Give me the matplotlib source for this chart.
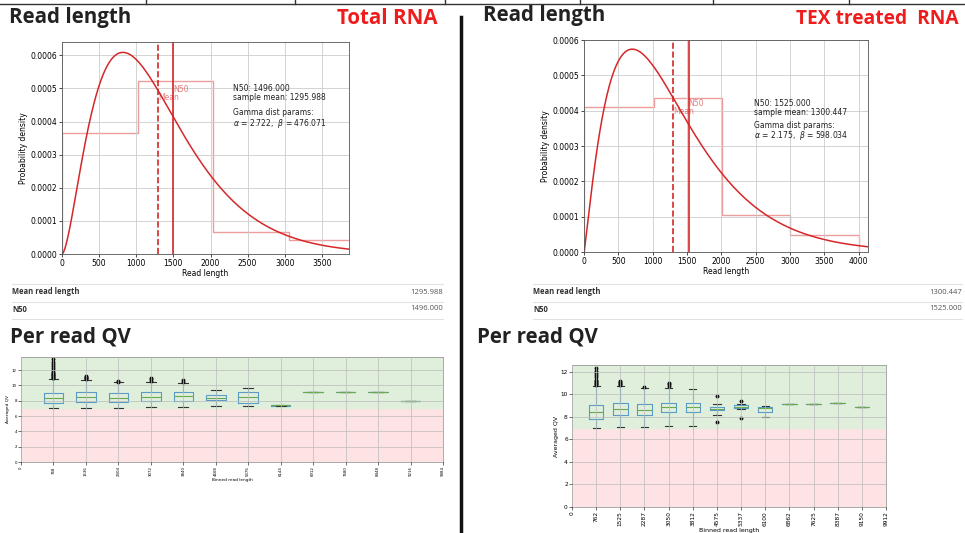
import math
import numpy as np
import matplotlib
matplotlib.use("Agg")
import matplotlib.pyplot as plt
from matplotlib.lines import Line2D

W, H = 965, 533

# ---- read length data (left: Total RNA, right: TEX treated RNA) ----
total_bin_edges = [0, 1020, 2040, 3060, 4080]
total_density = [0.000366, 0.000521, 0.000067, 0.000043]
total_n50 = 1496.000
total_mean = 1295.988
total_alpha, total_beta = 2.722, 476.071

tex_bin_edges = [0, 1015, 2010, 3005, 4000]
tex_density = [0.000409, 0.000435, 0.000105, 0.000048]
tex_n50 = 1525.000
tex_mean = 1300.447
tex_alpha, tex_beta = 2.175, 598.034

# ---- per read QV box stats: whislo, q1, med, q3, whishi ----
total_qv_ticks = ["0", "768", "1536", "2304", "3072", "3840", "4608", "5376",
                  "6144", "6912", "7680", "8448", "9216", "9984"]
total_qv_stats = [
    (7.06, 7.66, 8.40, 9.05, 10.8),
    (7.06, 7.88, 8.50, 9.10, 10.7),
    (7.06, 7.85, 8.40, 8.96, 10.4),
    (7.14, 7.90, 8.45, 9.08, 10.5),
    (7.14, 8.00, 8.55, 9.10, 10.3),
    (7.36, 8.05, 8.35, 8.70, 9.4),
    (7.27, 7.75, 8.45, 9.08, 9.6),
    (7.30, 7.36, 7.40, 7.45, 7.5),
    (9.10, 9.10, 9.10, 9.10, 9.10),
    (9.10, 9.10, 9.10, 9.10, 9.10),
    (9.10, 9.10, 9.10, 9.10, 9.10),
    (8.00, 8.00, 8.00, 8.00, 8.00),
]
total_qv_fliers = [
    [10.9, 11.0, 11.1, 11.2, 11.3, 11.4, 11.5, 11.6, 11.8, 12.0, 12.2, 12.5, 12.8, 13.1, 13.4],
    [10.8, 10.9, 11.0, 11.1, 11.2],
    [10.5, 10.55],
    [10.6, 10.8, 11.0],
    [10.4, 10.7],
    [], [], [], [], [], [], [],
]

tex_qv_ticks = ["0", "762", "1525", "2287", "3050", "3812", "4575", "5337",
                "6100", "6862", "7625", "8387", "9150", "9912"]
tex_qv_stats = [
    (7.05, 7.85, 8.44, 9.04, 10.7),
    (7.10, 8.20, 8.74, 9.19, 10.7),
    (7.10, 8.15, 8.65, 9.10, 10.6),
    (7.17, 8.40, 8.90, 9.27, 10.6),
    (7.17, 8.39, 8.90, 9.19, 10.46),
    (8.20, 8.60, 8.74, 8.90, 9.10),
    (8.70, 8.82, 8.90, 9.02, 9.10),
    (8.00, 8.44, 8.80, 8.90, 8.95),
    (9.12, 9.12, 9.12, 9.12, 9.12),
    (9.18, 9.18, 9.18, 9.18, 9.18),
    (9.25, 9.25, 9.25, 9.25, 9.25),
    (8.88, 8.88, 8.88, 8.88, 8.88),
]
tex_qv_fliers = [
    [10.8, 10.9, 11.0, 11.1, 11.2, 11.3, 11.5, 11.7, 11.9, 12.1, 12.35],
    [10.8, 10.9, 11.0, 11.1, 11.2],
    [10.65],
    [10.7, 10.9, 11.0],
    [],
    [9.85, 7.5],
    [9.4, 7.9],
    [], [], [], [], [],
]

RED = "#d62728"


def px(l, t, r, b):
    return [l / W, 1 - b / H, (r - l) / W, (b - t) / H]


def fig_y(y):
    return 1 - y / H


def gamma_pdf(x, a, scale):
    return np.exp((a - 1) * np.log(np.maximum(x, 1e-9)) - x / scale
                  - math.lgamma(a) - a * math.log(scale))


def read_length_plot(ax, edges, dens, n50, mean, a, b, xmax, ymax, tx, ty, gap):
    ax.stairs(dens, edges, color=RED, alpha=0.45, lw=1.0)
    xs = np.linspace(0, xmax, 500)
    ax.plot(xs, gamma_pdf(xs, a, b), color=RED, lw=1.1)
    ax.axvline(mean, color=RED, ls="--", lw=1.2)
    ax.axvline(n50, color=RED, lw=1.2)
    ax.text(n50, ty * 0.97, "N50", color=RED, alpha=0.6, fontsize=5.5, va="center")
    ax.text(mean, ty * 0.92, "Mean", color=RED, alpha=0.6, fontsize=5.5, va="center")
    ax.annotate("N50: %.3f\nsample mean: %.3f" % (n50, mean), (tx, ty),
                fontsize=5.5, va="top", linespacing=0.95, color="#222222")
    ax.annotate("Gamma dist params:\n$\\alpha$ = %.3f,  $\\beta$ = %.3f" % (a, b), (tx, ty),
                xytext=(0, -gap), textcoords="offset points",
                fontsize=5.5, va="top", linespacing=0.95, color="#222222")
    ax.set_xlim(0, xmax)
    ax.set_ylim(0, ymax)
    ax.set_xticks(np.arange(0, xmax, 500))
    ax.set_yticks(np.arange(0, 0.00061, 0.0001))
    ax.yaxis.set_major_formatter(matplotlib.ticker.FormatStrFormatter("%.4f"))
    ax.grid(True, color="#cccccc", lw=0.6)
    ax.tick_params(labelsize=5.5, length=2, width=0.5, pad=1.5)
    ax.set_xlabel("Read length", fontsize=5.5, labelpad=1)
    ax.set_ylabel("Probability density", fontsize=5.5, labelpad=2)
    for s in ax.spines.values():
        s.set_color("#555555")
        s.set_linewidth(0.6)


def qv_plot(ax, stats, fliers, ticks, ymax, fs):
    ax.axhspan(0, 7, color="#fde3e3", zorder=0)
    ax.axhspan(7, ymax, color="#e0efdc", zorder=0)
    bx = []
    for st, fl in zip(stats, fliers):
        bx.append(dict(whislo=st[0], q1=st[1], med=st[2], q3=st[3], whishi=st[4], fliers=fl))
    ax.bxp(bx, positions=range(1, len(bx) + 1), widths=0.6, manage_ticks=False,
           boxprops=dict(color="#5a9bc8", lw=0.8),
           whiskerprops=dict(color="#5a9bc8", lw=0.8),
           medianprops=dict(color="#6aa84f", lw=0.8),
           capprops=dict(color="#333333", lw=0.8),
           flierprops=dict(marker="o", markersize=1.8, markerfacecolor="#111111",
                           markeredgecolor="#111111"))
    ax.set_xlim(0, len(ticks) - 1)
    ax.set_ylim(0, ymax)
    ax.set_xticks(range(len(ticks)))
    ax.set_xticklabels(ticks, rotation=90)
    ax.set_yticks(range(0, 13, 2))
    ax.grid(True, color="#bbbbbb", lw=0.5)
    ax.set_axisbelow(False)
    ax.tick_params(labelsize=fs, length=2, width=0.4, pad=1)
    ax.set_xlabel("Binned read length", fontsize=fs + 0.3, labelpad=1)
    ax.set_ylabel("Averaged QV", fontsize=fs + 0.3, labelpad=1)
    for s in ax.spines.values():
        s.set_color("#888888")
        s.set_linewidth(0.5)


fig = plt.figure(figsize=(W / 100, H / 100), dpi=100)

# table border from above, cut off
fig.add_artist(Line2D([0, 1], [fig_y(4), fig_y(4)], color="#333333", lw=1.0))
for xv in [146, 295, 445, 580, 713, 849]:
    fig.add_artist(Line2D([xv / W, xv / W], [1, fig_y(4)], color="#333333", lw=1.0))

# divider
fig.add_artist(Line2D([461 / W, 461 / W], [fig_y(17), 0], color="#111111", lw=2.5))

head = dict(fontsize=14.8, fontweight="bold", family="Open Sans", va="center")
fig.text(9 / W, fig_y(17), "Read length", color="#222222", **head)
fig.text(337 / W, fig_y(19), "Total RNA", color="#ee1c1c", **head)
fig.text(483 / W, fig_y(16), "Read length", color="#222222", **head)
fig.text(796 / W, fig_y(19), "TEX treated  RNA", color="#ee1c1c",
         **dict(head, fontsize=13.8))
fig.text(10 / W, fig_y(337), "Per read QV", color="#222222", **head)
fig.text(477 / W, fig_y(337), "Per read QV", color="#222222", **head)

# read length plots
ax1 = fig.add_axes(px(62, 42, 349, 254))
read_length_plot(ax1, total_bin_edges, total_density, total_n50, total_mean,
                 total_alpha, total_beta, 3865, 0.00064, 2300, 0.000512, 17)
ax2 = fig.add_axes(px(584, 40, 868, 252))
read_length_plot(ax2, tex_bin_edges, tex_density, tex_n50, tex_mean,
                 tex_alpha, tex_beta, 4136, 0.0006, 2470, 0.000432, 15.5)

# summary tables
for x0, x1, mean, n50 in [(12, 443, total_mean, total_n50), (533, 962, tex_mean, tex_n50)]:
    for yl in [284, 302, 319]:
        fig.add_artist(Line2D([x0 / W, x1 / W], [fig_y(yl), fig_y(yl)], color="#e2e2e2", lw=0.8))
    fig.text(x0 / W, fig_y(292), "Mean read length", fontsize=5.5, fontweight="bold",
             family="Open Sans", va="center", color="#333333")
    fig.text(x0 / W, fig_y(309), "N50", fontsize=5.5, fontweight="bold",
             family="Open Sans", va="center", color="#333333")
    fig.text(x1 / W, fig_y(292), "%.3f" % mean, fontsize=5.5, family="Open Sans",
             va="center", ha="right", color="#555555")
    fig.text(x1 / W, fig_y(309), "%.3f" % n50, fontsize=5.5, family="Open Sans",
             va="center", ha="right", color="#555555")

# per read QV plots
ax3 = fig.add_axes(px(21, 357, 443, 462))
qv_plot(ax3, total_qv_stats, total_qv_fliers, total_qv_ticks, 13.7, 2.8)
ax4 = fig.add_axes(px(572, 365, 886, 507))
qv_plot(ax4, tex_qv_stats, tex_qv_fliers, tex_qv_ticks, 12.6, 4.2)

fig.savefig("out.png", dpi=100)
